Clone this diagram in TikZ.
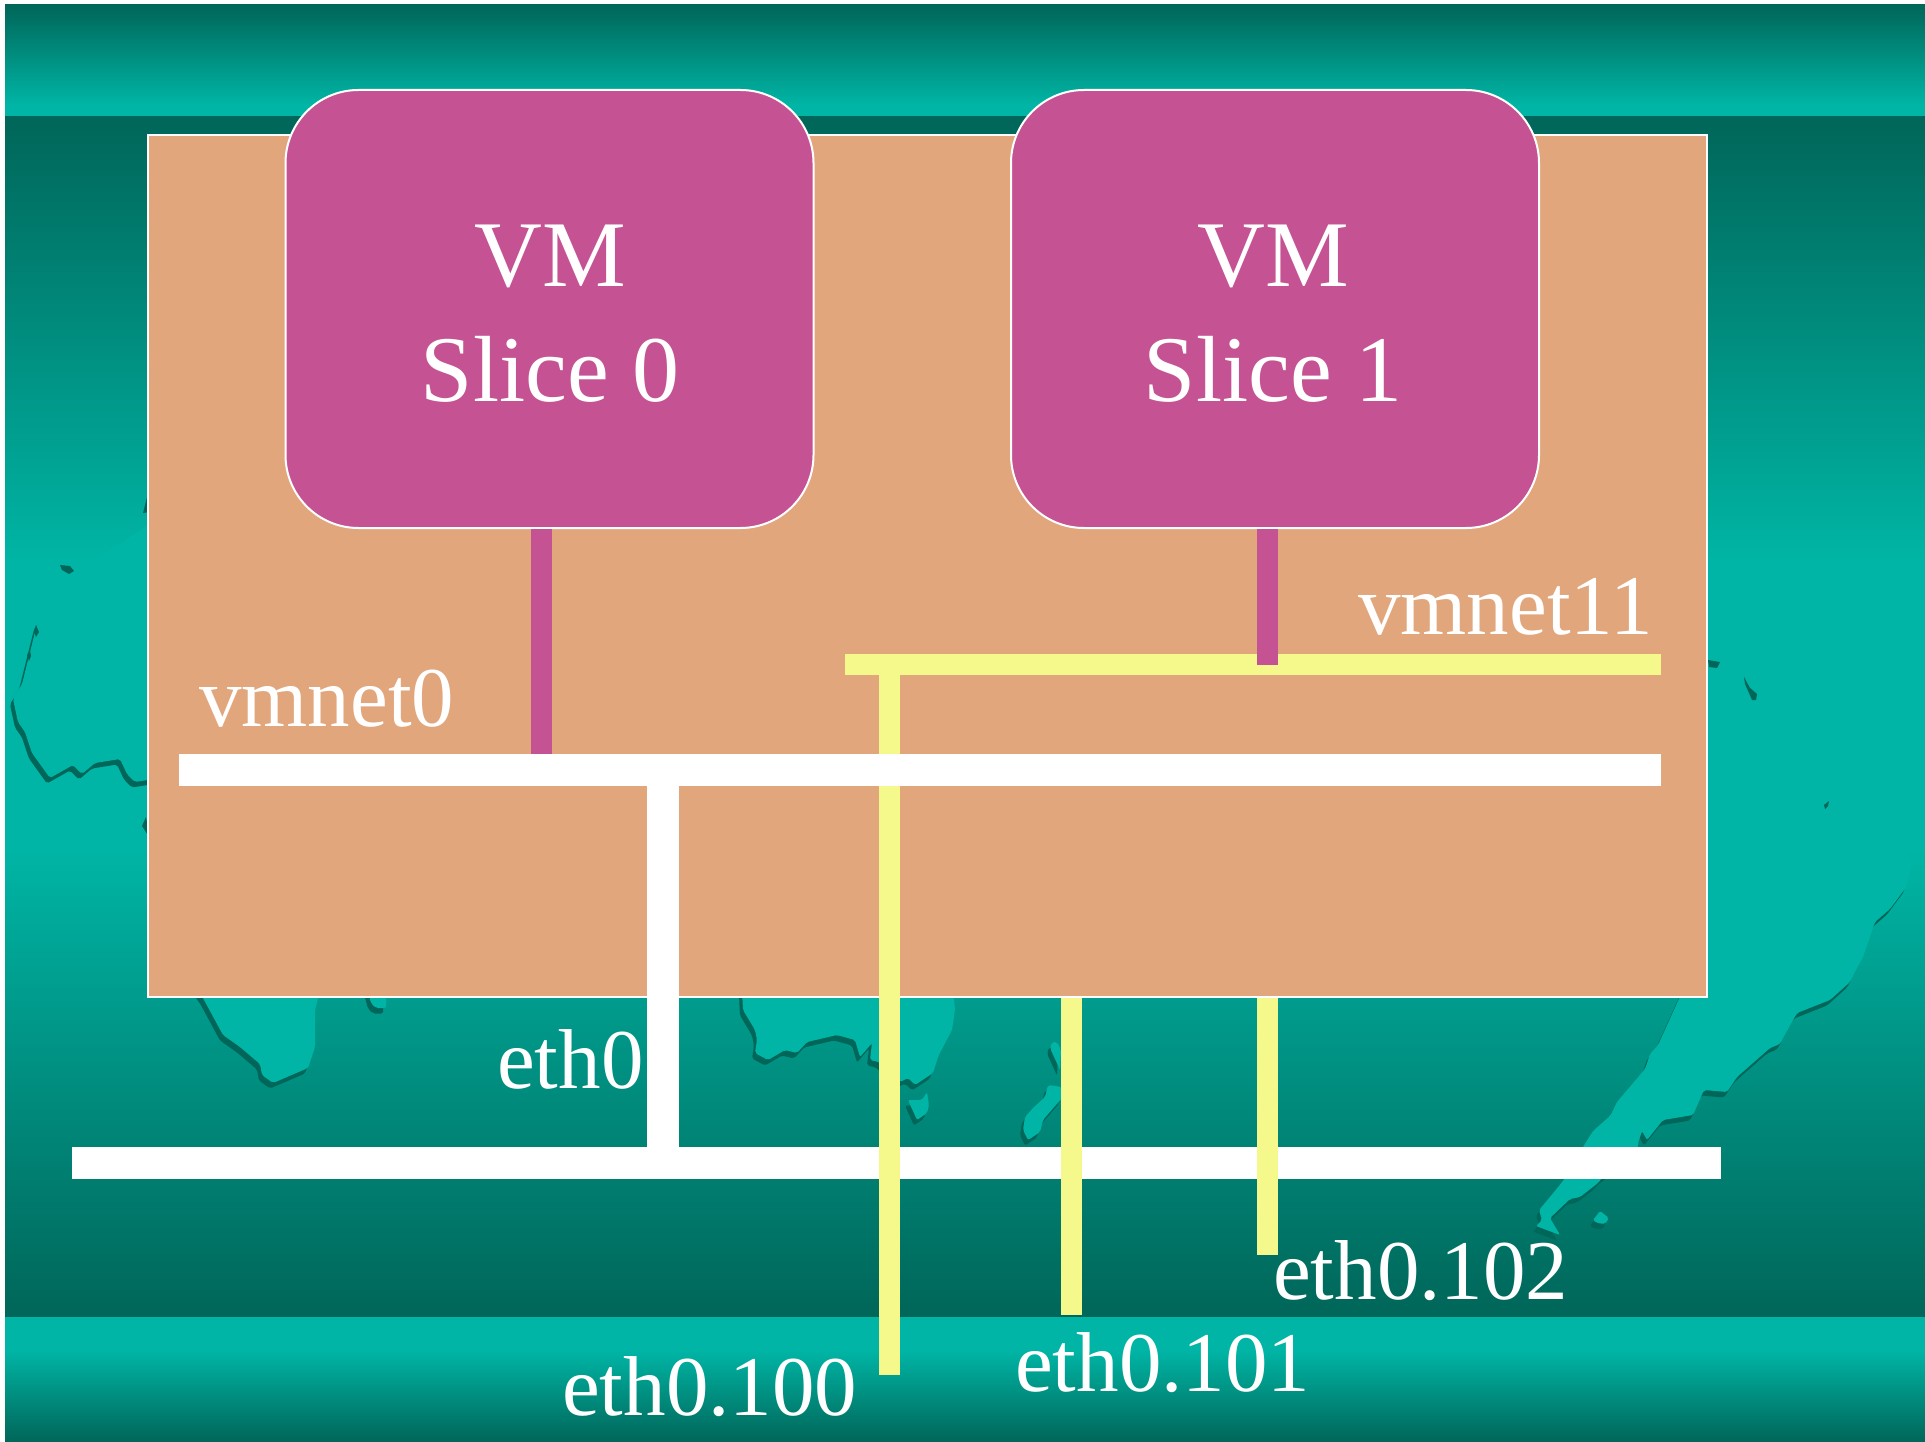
\documentclass[tikz,border=0pt]{standalone}
\usepackage{fontspec}
\setmainfont{Liberation Serif}
\definecolor{tealdark}{HTML}{006659}
\definecolor{teallight}{HTML}{00B5A5}
\definecolor{peach}{HTML}{E2A67C}
\definecolor{vmpink}{HTML}{C55394}
\definecolor{paleyellow}{HTML}{F5F98B}
\newcommand{\landshape}[1]{%
  \fill[tealdark,rounded corners=2pt,xshift=-3pt,yshift=-5.5pt] #1 -- cycle;
  \fill[teallight,rounded corners=2pt] #1 -- cycle;}
\tikzset{
  hostbox/.style={draw=white,line width=2.5pt,fill=peach,rectangle,inner sep=0pt,minimum width=1559pt,minimum height=862pt},
  vmbox/.style={draw=white,line width=2pt,fill=vmpink,rectangle,rounded corners=73pt,inner sep=0pt,minimum width=528pt,minimum height=438pt},
  railwhite/.style={fill=white,rectangle,inner sep=0pt},
  railyellow/.style={fill=paleyellow,rectangle,inner sep=0pt},
  whitelink/.style={draw=white,line width=32pt},
  yellowlink/.style={draw=paleyellow,line width=21pt},
  pinklink/.style={draw=vmpink,line width=21pt},
  bigtext/.style={text=white,font=\fontsize{94}{115}\selectfont,align=center,inner sep=0pt,anchor=base},
  labeltext/.style={text=white,font=\fontsize{85}{100}\selectfont,inner sep=0pt,anchor=base west}
}
\begin{document}
\begin{tikzpicture}[x=1pt,y=-1pt]
\useasboundingbox (0,0) rectangle (1925,1442);
\fill[white] (0,0) rectangle (1925,1442);
% background bands
\shade[top color=tealdark,bottom color=teallight] (5,5) rectangle (1925,105);
\fill[teallight] (5,104.5) rectangle (1925,117);
\shade[top color=tealdark,bottom color=teallight] (5,117) rectangle (1925,560);
\fill[teallight] (5,559.5) rectangle (1925,850.5);
\shade[top color=teallight,bottom color=tealdark] (5,850) rectangle (1925,1317);
\fill[teallight] (5,1317) rectangle (1925,1350.5);
\shade[top color=teallight,bottom color=tealdark] (5,1350) rectangle (1925,1442);
% land, left
\landshape{(160,525) -- (148,525) -- (110,550) -- (67,579) -- (37,624) -- (22,684) -- (13,699) -- (18,722) -- (25,732) -- (32,753) -- (50,778) -- (73,765) -- (82,774) -- (95,763) -- (120,759) -- (127,774) -- (135,782) -- (160,778)}
\landshape{(190,980) -- (203,998) -- (223,1035) -- (240,1047) -- (260,1064) -- (262,1075) -- (273,1083) -- (308,1068) -- (315,1047) -- (315,1010) -- (320,990)}
\landshape{(366,985) -- (371,1003) -- (376,1008) -- (386,1008) -- (386,985)}
\fill[tealdark] (60,565) -- (70,566) -- (74,571) -- (69,574) -- (62,570) -- cycle;
\fill[tealdark] (36,625) -- (39,632) -- (36,637) -- (34,631) -- cycle;
\fill[tealdark] (30,650) -- (31,656) -- (29,661) -- (27,655) -- cycle;
\fill[tealdark] (147,497) -- (150,512) -- (143,513) -- cycle;
\fill[tealdark] (146,817) -- (142,826) -- (150,838) -- cycle;
% land, middle
\landshape{(742,990) -- (743,1010) -- (755,1030) -- (757,1040) -- (755,1053) -- (768,1060) -- (785,1050) -- (797,1053) -- (807,1042) -- (837,1035) -- (855,1040) -- (860,1057) -- (872,1043) -- (870,1060) -- (879,1062) -- (900,1082) -- (908,1078) -- (915,1085) -- (933,1073) -- (938,1057) -- (952,1030) -- (955,1010) -- (953,990)}
\landshape{(908,1100) -- (922,1100) -- (927,1092) -- (929,1105) -- (927,1113) -- (917,1120)}
\landshape{(1052,1042) -- (1057,1042) -- (1061,1050) -- (1060,1070) -- (1050,1048)}
\landshape{(1048,1085) -- (1062,1087) -- (1062,1098) -- (1043,1120) -- (1040,1132) -- (1028,1140) -- (1023,1130) -- (1025,1117) -- (1033,1108) -- (1045,1097)}
% land, right
\landshape{(1700,800) -- (1842,812) -- (1883,828) -- (1912,861) -- (1907,886) -- (1890,909) -- (1875,922) -- (1863,957) -- (1850,982) -- (1830,1000) -- (1797,1013) -- (1780,1044) -- (1770,1048) -- (1737,1077) -- (1727,1092) -- (1704,1090) -- (1693,1115) -- (1663,1120) -- (1647,1140) -- (1642,1131) -- (1638,1143) -- (1638,1150) -- (1600,1180) -- (1598,1183) -- (1580,1197) -- (1570,1199) -- (1550,1218) -- (1560,1235) -- (1536,1226) -- (1542,1220) -- (1539,1210) -- (1550,1197) -- (1563,1181) -- (1583,1147) -- (1593,1131) -- (1610,1116) -- (1617,1102) -- (1645,1069) -- (1650,1054) -- (1658,1045) -- (1683,990)}
\landshape{(1593,1220) -- (1600,1211) -- (1609,1218) -- (1605,1224) -- (1597,1223)}
\fill[tealdark] (1708,660) -- (1720,662) -- (1717,668) -- (1709,667) -- cycle;
\fill[tealdark] (1744,677) -- (1750,688) -- (1757,694) -- (1756,700) -- (1752,700) -- (1745,684) -- cycle;
\fill[tealdark] (1829,801) -- (1828,806) -- (1825,809) -- (1824,805) -- cycle;
% host and virtual machines
\node[hostbox] (host) at (927.5,566) {};
\node[vmbox] (vm0) at (549.5,309) {};
\node[vmbox] (vm1) at (1275,309) {};
\node[bigtext] (vm0label) at (550,401) {VM\\Slice 0};
\node[bigtext] (vm1label) at (1273,401) {VM\\Slice 1};
% physical wire and virtual rails
\node[railwhite,minimum width=1649pt,minimum height=32pt] (ethwire) at (896.5,1163) {};
\node[railyellow,minimum width=816pt,minimum height=21pt] (vmnet11) at (1253,664.5) {};
\coordinate (y100x) at (889.5,0);
\coordinate (y101x) at (1071,0);
\coordinate (y102x) at (1267.5,0);
\coordinate (p0x) at (541.5,0);
\coordinate (w0x) at (663,0);
\coordinate (e100) at (889.5,1375);
\coordinate (e101) at (1071,1315);
\coordinate (e102) at (1267.5,1255);
% yellow links
\draw[yellowlink] (vmnet11.center -| y100x) -- (e100);
\draw[yellowlink] (host.south -| y101x) -- (e101);
\draw[yellowlink] (host.south -| y102x) -- (e102);
% vmnet0 rail and its links
\node[railwhite,minimum width=1482pt,minimum height=32pt] (vmnet0) at (920,770) {};
\draw[whitelink] (vmnet0.south -| w0x) -- (ethwire.north -| w0x);
\draw[pinklink] (vm0.south -| p0x) -- (vmnet0.north -| p0x);
\draw[pinklink] (vm1.south -| y102x) -- (vmnet11.center -| y102x);
% labels
\node[labeltext] (lvmnet0) at (199,726) {vmnet0};
\node[labeltext] (lvmnet11) at (1358,634) {vmnet11};
\node[labeltext] (leth0) at (497,1088) {eth0};
\node[labeltext] (leth100) at (562,1415) {eth0.100};
\node[labeltext] (leth101) at (1015,1391) {eth0.101};
\node[labeltext] (leth102) at (1273,1299) {eth0.102};
\end{tikzpicture}
\end{document}
